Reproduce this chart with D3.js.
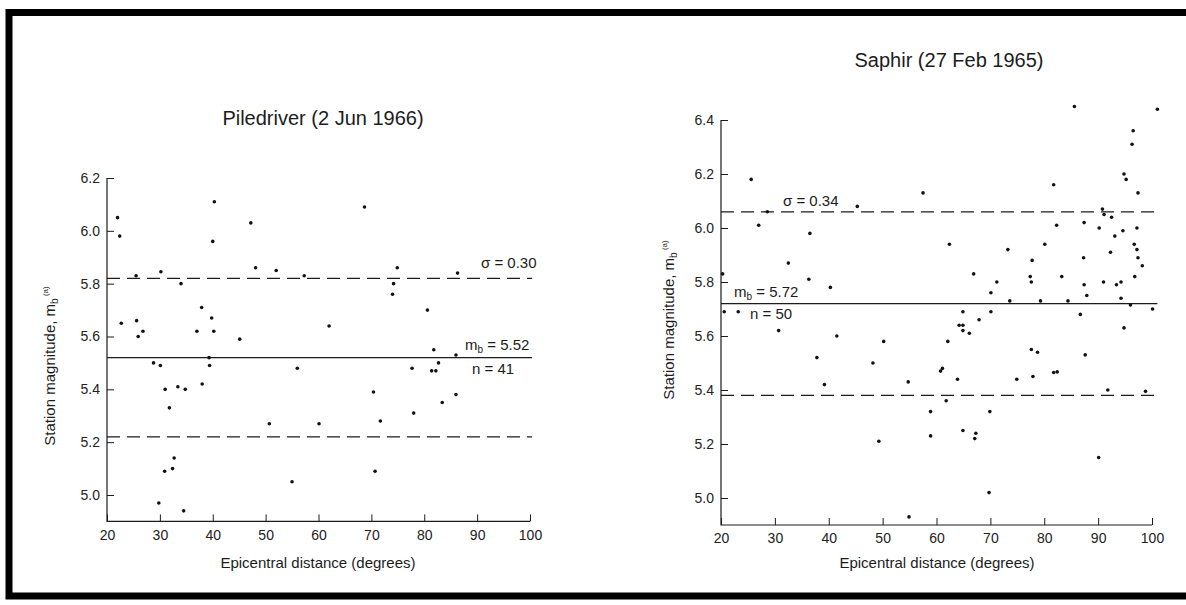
<!DOCTYPE html>
<html>
<head>
<meta charset="utf-8">
<script src="https://cdn.jsdelivr.net/npm/d3@7"></script>
<style>
  body { margin: 0; background: #fff; }
  svg { display: block; font-family: "Liberation Sans", Arial, sans-serif; }
  .tick text { fill: #222; }
</style>
</head>
<body>
<svg id="svg" width="1186" height="605"></svg>
<script>
"use strict";

// Piledriver (2 Jun 1966): epicentral distance (deg) and station mb
const pileDist = [22.0, 22.4, 22.7, 25.5, 25.6, 25.9, 26.8, 28.8, 30.1, 30.2, 31.0, 31.8,
    30.9, 32.4, 32.7, 29.8, 34.5, 33.4, 34.0, 34.8, 37.0, 37.9, 38.0, 39.3, 39.4, 39.8,
    40.2, 40.0, 40.3, 45.1, 47.2, 48.1, 50.7, 52.0, 57.3, 62.0, 56.0, 60.1, 55.0, 68.7,
    74.9, 74.2, 74.0, 80.6, 70.4, 71.7, 70.7, 81.8, 77.7, 81.4, 82.2, 82.7, 86.0, 86.0,
    83.4, 78.0, 86.3];
const pileMag = [6.05, 5.98, 5.65, 5.83, 5.66, 5.60, 5.62, 5.50, 5.49, 5.845, 5.40, 5.33,
    5.09, 5.10, 5.14, 4.97, 4.94, 5.41, 5.80, 5.40, 5.62, 5.71, 5.42, 5.52, 5.49, 5.67,
    5.62, 5.96, 6.11, 5.59, 6.03, 5.86, 5.27, 5.85, 5.83, 5.64, 5.48, 5.27, 5.05, 6.09,
    5.86, 5.80, 5.76, 5.70, 5.39, 5.28, 5.09, 5.55, 5.48, 5.47, 5.47, 5.50, 5.53, 5.38,
    5.35, 5.31, 5.84];

// Saphir (27 Feb 1965)
const saphDist = [20.3, 25.6, 27.0, 28.6, 32.5, 36.5, 36.3, 40.3, 45.3,
    20.6, 23.2, 30.7, 37.8, 39.2, 41.5, 48.2, 50.2, 49.3,
    57.5, 85.6, 81.75, 82.3, 87.4, 90.2, 62.4, 73.25, 80.1, 77.75, 66.9, 71.2, 70.1, 77.4,
    77.6, 83.25, 87.3, 87.4, 87.9, 73.6, 79.3, 84.4, 64.9, 70.1, 86.7,
    64.2, 64.9, 64.9, 67.9, 66.1, 62.1, 60.75, 61.1, 63.9, 54.75, 74.9, 77.6, 78.75, 77.9,
    81.75, 82.4, 87.6, 61.8, 58.9, 58.9, 64.9, 67.3, 67.1, 69.9, 69.75, 54.9, 90.1,
    101.0, 96.5, 96.3, 94.8, 95.2, 97.4, 90.8, 91.1, 92.5, 94.6, 97.2, 93.1, 96.7, 97.2,
    92.3, 97.4, 98.2, 96.8, 91.0, 93.4, 94.25, 94.25, 96.0, 100.1, 94.8, 91.8, 98.8];
const saphMag = [5.83, 6.18, 6.01, 6.06, 5.87, 5.98, 5.81, 5.78, 6.08,
    5.69, 5.69, 5.62, 5.52, 5.42, 5.60, 5.50, 5.58, 5.21,
    6.13, 6.45, 6.16, 6.01, 6.02, 6.00, 5.94, 5.92, 5.94, 5.88, 5.83, 5.80, 5.76, 5.82,
    5.80, 5.82, 5.89, 5.79, 5.75, 5.73, 5.73, 5.73, 5.69, 5.69, 5.68,
    5.64, 5.64, 5.62, 5.66, 5.61, 5.58, 5.47, 5.48, 5.44, 5.43, 5.44, 5.55, 5.54, 5.45,
    5.465, 5.467, 5.53, 5.36, 5.32, 5.23, 5.25, 5.24, 5.22, 5.32, 5.02, 4.93, 5.15,
    6.44, 6.36, 6.31, 6.20, 6.18, 6.13, 6.07, 6.05, 6.04, 5.99, 6.00, 5.97, 5.94, 5.92,
    5.91, 5.89, 5.86, 5.82, 5.80, 5.79, 5.80, 5.74, 5.715, 5.70, 5.63, 5.40, 5.395];

const distTicks = [20, 30, 40, 50, 60, 70, 80, 90, 100];
const pileMagTicks = [5.0, 5.2, 5.4, 5.6, 5.8, 6.0, 6.2];
const saphMagTicks = [5.0, 5.2, 5.4, 5.6, 5.8, 6.0, 6.2, 6.4];

// mean, standard deviation, number of stations
const pileStats = [5.52, 0.30, 41];
const saphStats = [5.72, 0.34, 50];

var svg = d3.select("svg");
const ink = "#1c1c1c";

// scanned page frame
svg.append("path")
    .attr("d", "M1200,12.5 H9 V596 H1200")
    .attr("fill", "none")
    .attr("stroke", "#000")
    .attr("stroke-width", 7);

function drawPanel(p)
{
    var x = d3.scaleLinear().domain([20, 100]).range(p.xRange);
    var y = d3.scaleLinear().domain([5.0, p.yTop]).range(p.yRange);
    var bottom = y(4.9);
    var g = svg.append("g");

    g.append("text")
        .attr("x", p.titleX)
        .attr("y", p.titleY)
        .attr("text-anchor", "middle")
        .attr("font-size", 20)
        .attr("fill", ink)
        .text(p.title);

    var yAxis = g.append("g")
        .attr("transform", "translate(" + x(20) + ",0)")
        .call(d3.axisLeft(y).tickValues(p.yTicks).tickFormat(d3.format(".1f"))
            .tickSizeInner(-7).tickSizeOuter(0).tickPadding(7));
    yAxis.select(".domain").remove();
    yAxis.selectAll("line").attr("stroke", ink);
    yAxis.selectAll("text").attr("font-size", 14).attr("font-family", null);

    var xAxis = g.append("g")
        .attr("transform", "translate(0," + bottom + ")")
        .call(d3.axisBottom(x).tickValues(distTicks)
            .tickSizeInner(-7).tickSizeOuter(0).tickPadding(p.xPad));
    xAxis.select(".domain").remove();
    xAxis.selectAll("line").attr("stroke", ink);
    xAxis.selectAll("text").attr("font-size", 14).attr("font-family", null);

    // axis frame: left and bottom
    g.append("path")
        .attr("d", "M" + x(20) + "," + y(p.yTop) + " V" + bottom + " H" + x(100))
        .attr("fill", "none")
        .attr("stroke", ink)
        .attr("stroke-width", 1.2);

    // mean and +/- sigma lines
    var mean = p.stats[0], sd = p.stats[1];
    [mean - sd, mean, mean + sd].forEach(function(v, i) {
        g.append("line")
            .attr("x1", x(20)).attr("x2", x(p.lineEnd))
            .attr("y1", y(v)).attr("y2", y(v))
            .attr("stroke", ink)
            .attr("stroke-width", 1.2)
            .attr("stroke-dasharray", i == 1 ? null : "13,7");
    });

    g.append("g")
        .selectAll("circle")
        .data(p.dist.map((d, i) => [d, p.mag[i]]))
        .enter()
        .append("circle")
            .attr("cx", d => x(d[0]))
            .attr("cy", d => y(d[1]))
            .attr("r", 1.8)
            .attr("fill", "#111");

    g.append("text")
        .attr("x", p.xTitle[0])
        .attr("y", p.xTitle[1])
        .attr("text-anchor", "middle")
        .attr("font-size", 15)
        .attr("fill", ink)
        .text("Epicentral distance (degrees)");

    var yt = g.append("text")
        .attr("transform", "translate(" + p.yTitle[0] + "," + p.yTitle[1] + ") rotate(-90)")
        .attr("text-anchor", "middle")
        .attr("font-size", 15)
        .attr("fill", ink);
    yt.append("tspan").text("Station magnitude, m");
    yt.append("tspan").attr("dy", 3).attr("font-size", 10).text("b");
    yt.append("tspan").attr("dy", -10).attr("font-size", 8).text(" (a)");

    var sig = g.append("text")
        .attr("x", p.sigmaPos[0]).attr("y", p.sigmaPos[1])
        .attr("font-size", 15).attr("fill", ink)
        .text("σ = " + sd.toFixed(2));

    var mb = g.append("text")
        .attr("x", p.meanPos[0]).attr("y", p.meanPos[1])
        .attr("font-size", 15).attr("fill", ink);
    mb.append("tspan").text("m");
    mb.append("tspan").attr("dy", 3).attr("font-size", 10).text("b");
    mb.append("tspan").attr("dy", -3).text(" = " + mean.toFixed(2));

    g.append("text")
        .attr("x", p.nPos[0]).attr("y", p.nPos[1])
        .attr("font-size", 15).attr("fill", ink)
        .text("n = " + p.stats[2]);
}

drawPanel({
    title: "Piledriver (2 Jun 1966)", titleX: 323, titleY: 125,
    dist: pileDist, mag: pileMag, stats: pileStats,
    yTop: 6.2, yTicks: pileMagTicks,
    xRange: [107, 530], yRange: [495, 178], xPad: 9, lineEnd: 100.4,
    xTitle: [318, 568], yTitle: [55, 366],
    sigmaPos: [481, 268], meanPos: [465, 350], nPos: [472, 374]
});

drawPanel({
    title: "Saphir (27 Feb 1965)", titleX: 949, titleY: 67,
    dist: saphDist, mag: saphMag, stats: saphStats,
    yTop: 6.4, yTicks: saphMagTicks,
    xRange: [721, 1152], yRange: [498, 120], xPad: 8, lineEnd: 101,
    xTitle: [937, 568], yTitle: [674, 320],
    sigmaPos: [783, 206], meanPos: [734, 297], nPos: [750, 319]
});
</script>
</body>
</html>
